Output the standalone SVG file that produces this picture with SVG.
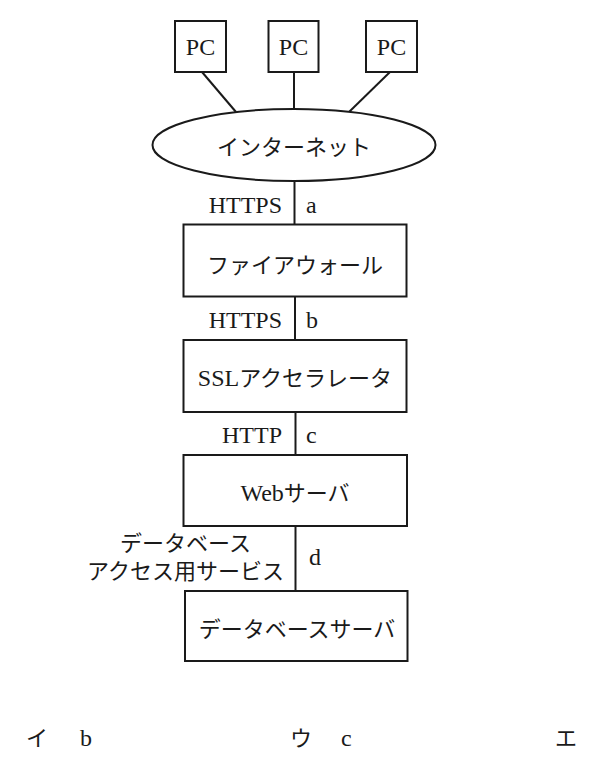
<svg xmlns="http://www.w3.org/2000/svg" width="602" height="769" viewBox="0 0 602 769">
<style>
.box{fill:#fff;stroke:#1a1a1a;stroke-width:2}
.ln{stroke:#1a1a1a;stroke-width:2;fill:none}
.jp{font-family:"Liberation Serif","Noto Sans CJK JP",serif;font-size:22px;fill:#1a1a1a}
.lat{font-family:"Liberation Serif","Noto Sans CJK JP",serif;font-size:24px;fill:#1a1a1a}
.big{font-size:24px}
.c{text-anchor:middle}
.r{text-anchor:end}
</style>
<rect width="602" height="769" fill="#fff"/>
<g id="connectors">
<line class="ln" x1="202" y1="72" x2="236" y2="112"/>
<line class="ln" x1="294" y1="72" x2="294" y2="110"/>
<line class="ln" x1="390" y1="72" x2="349" y2="112"/>
<line class="ln" x1="294.5" y1="181" x2="294.5" y2="224"/>
<line class="ln" x1="295" y1="297" x2="295" y2="340"/>
<line class="ln" x1="295.5" y1="412" x2="295.5" y2="455"/>
<line class="ln" x1="295.5" y1="526" x2="295.5" y2="591"/>
<text class="lat r" x="282" y="213">HTTPS</text>
<text class="lat" x="306" y="213">a</text>
<text class="lat r" x="282" y="328">HTTPS</text>
<text class="lat" x="306" y="328">b</text>
<text class="lat r" x="282" y="443">HTTP</text>
<text class="lat" x="306" y="443">c</text>
<text class="jp c" x="185.5" y="551">データベース</text>
<text class="jp c" x="185.5" y="579">アクセス用サービス</text>
<text class="lat" x="309" y="565">d</text>
</g>
<g id="pc1"><rect class="box" x="175" y="21" width="51" height="51"/><text class="lat c" x="200.5" y="55">PC</text></g>
<g id="pc2"><rect class="box" x="268.5" y="21" width="50" height="51"/><text class="lat c" x="293.5" y="55">PC</text></g>
<g id="pc3"><rect class="box" x="366" y="21" width="51" height="51"/><text class="lat c" x="391.5" y="55">PC</text></g>
<g id="internet"><ellipse class="box" cx="294" cy="145" rx="141.5" ry="36"/><text class="jp c" x="294" y="155">インターネット</text></g>
<g id="firewall"><rect class="box" x="183.5" y="224.5" width="223" height="72"/><text class="jp c" x="295" y="273">ファイアウォール</text></g>
<g id="ssl"><rect class="box" x="183.5" y="340" width="223" height="72"/><text class="jp c" x="295" y="386"><tspan class="big">SSL</tspan>アクセラレータ</text></g>
<g id="web"><rect class="box" x="183.5" y="455" width="223.5" height="71"/><text class="jp c" x="295" y="501"><tspan class="big">Web</tspan>サーバ</text></g>
<g id="db"><rect class="box" x="185" y="591" width="222.5" height="70"/><text class="jp c" x="297" y="637">データベースサーバ</text></g>
<g id="options">
<text class="jp" x="26" y="746">イ</text>
<text class="lat" x="80" y="746">b</text>
<text class="jp" x="290" y="746">ウ</text>
<text class="lat" x="341" y="746">c</text>
<text class="jp" x="555" y="746">エ</text>
</g>
</svg>
